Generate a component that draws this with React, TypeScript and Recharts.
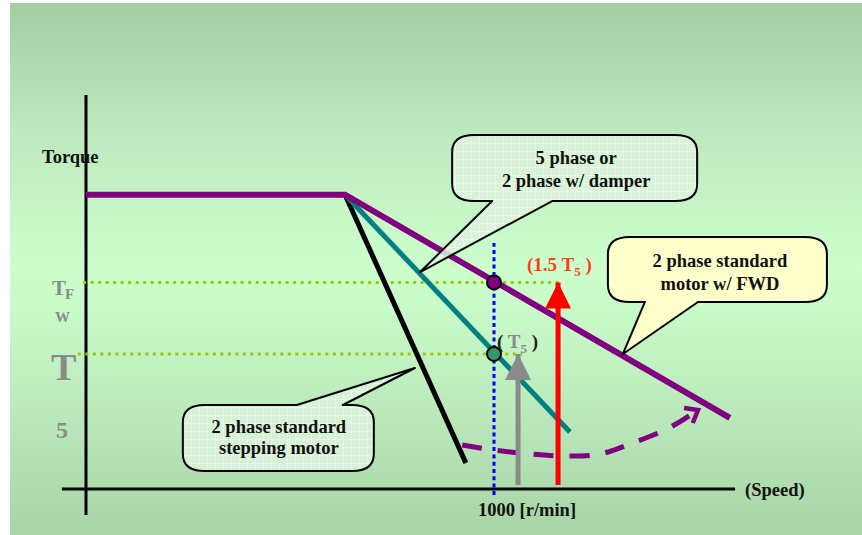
import React from 'react';
import { ComposedChart, Line, XAxis, YAxis, ReferenceLine, ReferenceDot } from 'recharts';

// ---------- layout ----------
const CHART_W = 862;
const CHART_H = 535;
const X_DOMAIN: [number, number] = [-210.8, 1902];
const Y_DOMAIN: [number, number] = [-0.341, 3.622];
const SERIF = "'Liberation Serif', 'Times New Roman', serif";

// ---------- data (speed in r/min, torque in units of T5) ----------
const HOLD_TORQUE = 2.18;
const CORNER_SPEED = 635;
const RATED_SPEED = 1000;
const T5 = 1.0;
const TFW = 1.53;

const speedAxisExtent = [-59, 1591];
const torqueAxisExtent = [-0.193, 2.919];

const fwdSpeeds = [0, CORNER_SPEED, 1578];
const fwdTorques = [HOLD_TORQUE, HOLD_TORQUE, 0.526];
const fivePhaseSpeeds = [CORNER_SPEED, 1186];
const fivePhaseTorques = [HOLD_TORQUE, 0.422];
const standardSpeeds = [CORNER_SPEED, 931];
const standardTorques = [HOLD_TORQUE, 0.193];
const resonanceSpeeds = [922, 1000, 1088, 1174, 1260, 1333, 1419, 1500];
const resonanceTorques = [0.326, 0.289, 0.259, 0.244, 0.259, 0.333, 0.437, 0.585];
const t5ArrowSpeed = 1059;
const tfwArrowSpeed = 1157;
const arrowBaseTorque = 0.03;
const tfwGuideSpeeds = [-7, 1162];
const t5GuideSpeeds = [-20, 1069];
const ratedGuideTorques = [-0.044, 1.822];

const calloutFivePhaseTip = { s: 819, t: 1.607 };
const calloutFwdTip = { s: 1316, t: 1.0 };
const calloutStdTip = { s: 806, t: 0.896 };

const zip = (ss: number[], ts: number[]) => ss.map((s, i) => ({ s, t: ts[i] }));
const fwdData = zip(fwdSpeeds, fwdTorques);
const fivePhaseData = zip(fivePhaseSpeeds, fivePhaseTorques);
const standardData = zip(standardSpeeds, standardTorques);
const resonanceData = zip(resonanceSpeeds, resonanceTorques);
const t5ArrowData = [{ s: t5ArrowSpeed, t: arrowBaseTorque }, { s: t5ArrowSpeed, t: T5 }];
const tfwArrowData = [{ s: tfwArrowSpeed, t: arrowBaseTorque }, { s: tfwArrowSpeed, t: TFW }];

// ---------- colours ----------
const PURPLE = '#800080';
const TEAL = '#008080';
const GRAY = '#8a8a8a';
const RED = '#ff0000';
const ORANGE = '#ff3d1a';
const GUIDE_GREEN = '#99cc00';

// ---------- shapes ----------
const headShape = (color: string, last: number) => (p: any) => {
  if (p.index !== last) return <g key={`h${p.index}`} />;
  const { cx, cy } = p;
  return (
    <polygon
      key={`h${p.index}`}
      points={`${cx},${cy} ${cx - 13},${cy + 26} ${cx + 13},${cy + 26}`}
      fill={color}
    />
  );
};

const chevronShape = (color: string, last: number, angleDeg: number) => (p: any) => {
  if (p.index !== last) return <g key={`c${p.index}`} />;
  const { cx, cy } = p;
  const a = (angleDeg * Math.PI) / 180;
  const back = a + Math.PI;
  const len = 14;
  const spread = (38 * Math.PI) / 180;
  const p1 = [cx + len * Math.cos(back - spread), cy + len * Math.sin(back - spread)];
  const p2 = [cx + len * Math.cos(back + spread), cy + len * Math.sin(back + spread)];
  return (
    <polyline
      key={`c${p.index}`}
      points={`${p1[0]},${p1[1]} ${cx},${cy} ${p2[0]},${p2[1]}`}
      fill="none"
      stroke={color}
      strokeWidth={4.5}
      strokeLinejoin="miter"
    />
  );
};

type CalloutSpec = {
  box: [number, number, number, number];
  tail: { side: 'top' | 'bottom'; a: number; b: number };
  lines: string[];
  textDx: number;
  textDy: number;
  lineGap: number;
  fill: string;
  opacity: number;
};

const calloutPath = (cx: number, cy: number, spec: CalloutSpec) => {
  const [dx0, dy0, dx1, dy1] = spec.box;
  const x0 = cx + dx0, y0 = cy + dy0, x1 = cx + dx1, y1 = cy + dy1;
  const rx = 22, ry = 17;
  const a = cx + spec.tail.a, b = cx + spec.tail.b;
  let d = `M ${x0 + rx} ${y0} `;
  if (spec.tail.side === 'top') d += `L ${a} ${y0} L ${cx} ${cy} L ${b} ${y0} `;
  d += `L ${x1 - rx} ${y0} Q ${x1} ${y0} ${x1} ${y0 + ry} `;
  d += `L ${x1} ${y1 - ry} Q ${x1} ${y1} ${x1 - rx} ${y1} `;
  if (spec.tail.side === 'bottom') d += `L ${b} ${y1} L ${cx} ${cy} L ${a} ${y1} `;
  d += `L ${x0 + rx} ${y1} Q ${x0} ${y1} ${x0} ${y1 - ry} `;
  d += `L ${x0} ${y0 + ry} Q ${x0} ${y0} ${x0 + rx} ${y0} Z`;
  return d;
};

const calloutShape = (spec: CalloutSpec) => (p: any) => {
  const { cx, cy } = p;
  return (
    <g>
      <defs>
        <pattern id="calloutGrid" width="8" height="8" patternUnits="userSpaceOnUse">
          <rect width="8" height="8" fill="#dcf3dc" />
          <path d="M 8 0 L 8 8 M 0 8 L 8 8" stroke="#ffffff" strokeWidth="1" />
        </pattern>
      </defs>
      <path
        d={calloutPath(cx, cy, spec)}
        fill={spec.fill}
        fillOpacity={spec.opacity}
        stroke="#000"
        strokeWidth={2}
        strokeLinejoin="round"
      />
      {spec.lines.map((ln, i) => (
        <text
          key={i}
          x={cx + spec.textDx}
          y={cy + spec.textDy + i * spec.lineGap}
          textAnchor="middle"
          fontFamily={SERIF}
          fontWeight="bold"
          fontSize={18.5}
          fill="#111"
        >
          {ln}
        </text>
      ))}
    </g>
  );
};

const calloutFivePhase: CalloutSpec = {
  box: [32, -137, 277, -71],
  tail: { side: 'bottom', a: 72, b: 132 },
  lines: ['5 phase or', '2 phase w/ damper'],
  textDx: 156,
  textDy: -108,
  lineGap: 23,
  fill: 'url(#calloutGrid)',
  opacity: 0.85,
};
const calloutFwd: CalloutSpec = {
  box: [-15, -117, 204, -52],
  tail: { side: 'bottom', a: 22, b: 75 },
  lines: ['2 phase standard', 'motor w/ FWD'],
  textDx: 97,
  textDy: -87,
  lineGap: 23,
  fill: '#ffffcc',
  opacity: 1,
};
const calloutStd: CalloutSpec = {
  box: [-232, 37, -41, 103],
  tail: { side: 'top', a: -118, b: -72 },
  lines: ['2 phase standard', 'stepping motor'],
  textDx: -136,
  textDy: 65,
  lineGap: 21,
  fill: 'url(#calloutGrid)',
  opacity: 0.85,
};

const textShape = (render: (cx: number, cy: number) => React.ReactElement) => (p: any) => render(p.cx, p.cy);

const boldText = {
  fontFamily: SERIF,
  fontWeight: 'bold' as const,
  fontSize: 18.5,
  fill: '#111',
};

export default function App() {
  return (
    <div style={{ position: 'absolute', left: 0, top: 0, width: CHART_W, height: CHART_H, background: '#fff' }}>
      <div
        style={{
          position: 'absolute',
          left: 10,
          top: 3,
          right: 0,
          bottom: 0,
          background:
            'linear-gradient(to bottom, #a3cea3 0%, #bfe9bf 25%, #ccffcc 50%, #c6f6c6 62%, #a8d4a8 100%)',
        }}
      />
      <div style={{ position: 'absolute', left: 0, top: 0 }}>
        <ComposedChart width={CHART_W} height={CHART_H} margin={{ top: 0, right: 0, bottom: 0, left: 0 }}>
          <XAxis type="number" dataKey="s" domain={X_DOMAIN} allowDataOverflow hide />
          <YAxis type="number" dataKey="t" domain={Y_DOMAIN} allowDataOverflow hide />

          {/* axes */}
          <ReferenceLine
            segment={[{ x: 0, y: torqueAxisExtent[0] }, { x: 0, y: torqueAxisExtent[1] }]}
            stroke="#000"
            strokeWidth={3}
            ifOverflow="visible"
          />
          <ReferenceLine
            segment={[{ x: speedAxisExtent[0], y: 0 }, { x: speedAxisExtent[1], y: 0 }]}
            stroke="#000"
            strokeWidth={3}
            ifOverflow="visible"
          />

          {/* guides */}
          <ReferenceLine
            segment={[{ x: tfwGuideSpeeds[0], y: TFW }, { x: tfwGuideSpeeds[1], y: TFW }]}
            stroke={GUIDE_GREEN}
            strokeWidth={3}
            strokeDasharray="3 4.5"
            ifOverflow="visible"
          />
          <ReferenceLine
            segment={[{ x: t5GuideSpeeds[0], y: T5 }, { x: t5GuideSpeeds[1], y: T5 }]}
            stroke={GUIDE_GREEN}
            strokeWidth={3}
            strokeDasharray="3 4.5"
            ifOverflow="visible"
          />
          <ReferenceLine
            segment={[{ x: RATED_SPEED, y: ratedGuideTorques[0] }, { x: RATED_SPEED, y: ratedGuideTorques[1] }]}
            stroke="#0000ff"
            strokeWidth={3}
            strokeDasharray="4 3.3"
            ifOverflow="visible"
          />

          {/* curves */}
          <Line data={standardData} dataKey="t" stroke="#000" strokeWidth={5} dot={false} activeDot={false} isAnimationActive={false} />
          <Line data={fivePhaseData} dataKey="t" stroke={TEAL} strokeWidth={5} dot={false} activeDot={false} isAnimationActive={false} />
          <Line data={fwdData} dataKey="t" stroke={PURPLE} strokeWidth={6} dot={false} activeDot={false} isAnimationActive={false} />
          <Line
            data={resonanceData}
            dataKey="t"
            type="natural"
            stroke={PURPLE}
            strokeWidth={5}
            strokeDasharray="20 16"
            dot={chevronShape(PURPLE, resonanceData.length - 1, -30)}
            activeDot={false}
            isAnimationActive={false}
          />
          <Line
            data={t5ArrowData}
            dataKey="t"
            stroke={GRAY}
            strokeWidth={5}
            dot={headShape(GRAY, 1)}
            activeDot={false}
            isAnimationActive={false}
          />
          <Line
            data={tfwArrowData}
            dataKey="t"
            stroke={RED}
            strokeWidth={5}
            dot={headShape(RED, 1)}
            activeDot={false}
            isAnimationActive={false}
          />

          {/* operating points */}
          <ReferenceDot x={RATED_SPEED} y={TFW} r={7} fill={PURPLE} stroke="#000" strokeWidth={2} ifOverflow="visible" />
          <ReferenceDot x={RATED_SPEED} y={T5} r={7} fill="#339966" stroke="#000" strokeWidth={2} ifOverflow="visible" />

          {/* callouts */}
          <ReferenceDot x={calloutFivePhaseTip.s} y={calloutFivePhaseTip.t} ifOverflow="visible" shape={calloutShape(calloutFivePhase)} />
          <ReferenceDot x={calloutFwdTip.s} y={calloutFwdTip.t} ifOverflow="visible" shape={calloutShape(calloutFwd)} />
          <ReferenceDot x={calloutStdTip.s} y={calloutStdTip.t} ifOverflow="visible" shape={calloutShape(calloutStd)} />

          {/* texts */}
          <ReferenceDot
            x={0}
            y={HOLD_TORQUE}
            ifOverflow="visible"
            shape={textShape((cx, cy) => (
              <text x={cx - 44} y={cy - 32} {...boldText}>Torque</text>
            ))}
          />
          <ReferenceDot
            x={0}
            y={TFW}
            ifOverflow="visible"
            shape={textShape((cx, cy) => (
              <g fontFamily={SERIF} fontWeight="bold" fill={GRAY}>
                <text x={cx - 34} y={cy + 13} fontSize={21}>T</text>
                <text x={cx - 21} y={cy + 17} fontSize={15}>F</text>
                <text x={cx - 31} y={cy + 40} fontSize={15}>W</text>
              </g>
            ))}
          />
          <ReferenceDot
            x={0}
            y={T5}
            ifOverflow="visible"
            shape={textShape((cx, cy) => (
              <g fontFamily={SERIF} fontWeight="bold" fill={GRAY}>
                <text x={cx - 35} y={cy + 26} fontSize={38}>T</text>
                <text x={cx - 30} y={cy + 84} fontSize={24}>5</text>
              </g>
            ))}
          />
          <ReferenceDot
            x={RATED_SPEED}
            y={0}
            ifOverflow="visible"
            shape={textShape((cx, cy) => (
              <text x={cx + 33} y={cy + 27} textAnchor="middle" {...boldText}>1000 [r/min]</text>
            ))}
          />
          <ReferenceDot
            x={speedAxisExtent[1]}
            y={0}
            ifOverflow="visible"
            shape={textShape((cx, cy) => (
              <text x={cx + 10} y={cy + 7} {...boldText}>(Speed)</text>
            ))}
          />
          <ReferenceDot
            x={tfwArrowSpeed}
            y={TFW}
            ifOverflow="visible"
            shape={textShape((cx, cy) => (
              <text x={cx - 31} y={cy - 11} fontFamily={SERIF} fontWeight="bold" fontSize={19} fill={ORANGE}>
                (1.5 T<tspan fontSize={13} dy={5}>5</tspan>
                <tspan dy={-5}> )</tspan>
              </text>
            ))}
          />
          <ReferenceDot
            x={RATED_SPEED}
            y={T5}
            ifOverflow="visible"
            shape={textShape((cx, cy) => (
              <text x={cx + 3} y={cy - 6} fontFamily={SERIF} fontWeight="bold" fontSize={19} fill="#222">
                (<tspan fill={GRAY}> T</tspan>
                <tspan fill={GRAY} fontSize={13} dy={5}>5</tspan>
                <tspan dy={-5}> )</tspan>
              </text>
            ))}
          />
        </ComposedChart>
      </div>
    </div>
  );
}
